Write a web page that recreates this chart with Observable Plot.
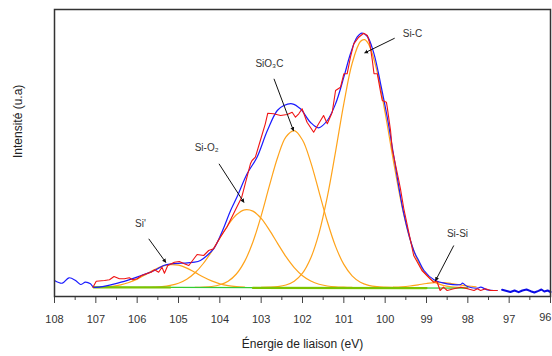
<!DOCTYPE html>
<html><head><meta charset="utf-8">
<script src="https://cdn.jsdelivr.net/npm/d3@7"></script>
<script src="https://cdn.jsdelivr.net/npm/@observablehq/plot@0.6"></script>
<style>
html,body{margin:0;padding:0;background:#fff;}
#chart{width:552px;height:356px;}
</style></head><body><div id="chart"></div>
<script>
// X axis ticks (binding energy, eV)
const xTicks = [108,107,106,105,104,103,102,101,100,99,98,97,96];
const xMinorTicks = [107.5,106.5,105.5,104.5,103.5,102.5,101.5,100.5,99.5,98.5,97.5,96.5];

// Envelope (blue)
const blueE = [108.00,107.81,107.65,107.49,107.37,107.25,107.13,107.05,106.39,105.90,
  105.58,105.36,105.18,104.78,104.61,104.47,104.31,104.15,104.06,103.90,
  103.74,103.58,103.34,103.10,102.85,102.61,102.45,102.25,102.05,101.81,
  101.61,101.40,101.20,101.00,100.84,100.68,100.56,100.43,100.27,100.11,
  99.95,99.79,99.55,99.31,99.19,99.06,98.82,98.50,98.17,98.13,
  98.01,97.77,97.69,97.53,97.29];
const blueH = [16,13.3,18.7,16,12,14.3,12.7,9.3,14.3,21,
  26,31,32.7,33.7,34.3,36,41,47.7,54.3,69.3,
  86,100,122.7,139.3,166,186,191,192.7,187.7,174.3,
  168.7,176,192.7,219.3,242.7,259.3,263.3,260,242.7,212.7,
  179.3,140,83,46,36,26,16.7,12.7,12,13.3,
  10,8.3,9.3,6.7,6];
// Blue tail (97 -> 96 eV)
const blueTailE = [97.17,97.06,96.97,96.87,96.77,96.68,96.58,96.48,96.39,96.29,96.22,96.15,96.07,96.00];
const blueTailH = [6.7,5.5,4.5,6,4.3,6,7,5.3,4,5.7,7,5,6,4.5];

// Measured spectrum (red)
const redE = [107.07,106.99,106.79,106.67,106.56,106.43,106.31,106.19,106.11,106.00,
  105.89,105.78,105.66,105.58,105.48,105.40,105.34,105.26,105.10,104.98,
  104.86,104.75,104.55,104.39,104.27,104.15,103.99,103.83,103.63,103.47,
  103.26,103.22,103.14,103.02,102.90,102.84,102.70,102.53,102.37,102.25,
  102.17,102.09,102.01,101.89,101.73,101.61,101.49,101.40,101.28,101.20,
  101.08,101.00,100.92,100.84,100.76,100.64,100.52,100.43,100.37,100.31,
  100.27,100.19,100.11,100.07,99.97,99.95,99.87,99.83,99.67,99.63,
  99.55,99.31,99.11,98.91,98.83,98.75,98.67,98.59,98.50,98.34,
  98.17,98.01,97.85,97.77,97.69,97.57,97.45,97.29];
const redH = [9.3,15.3,16,16.7,20,17.7,17.7,18.7,16.7,17.7,
  21,22.7,24.3,26.7,24.3,29.3,23.3,31,34.3,35,
  32.7,31,42,41,46,47.7,59.3,69.3,86,99.3,
  132.7,136,139.3,156,172.7,183.3,182.7,181,182,184.3,
  179.3,182.7,187.7,174.3,164.3,172.7,181,172.7,184.3,206,
  209.3,222.7,222.7,239.3,252.7,259.3,263.3,261,252.7,236,
  222.7,222.7,204.3,196,194.3,189.3,166,147.7,116,107.7,
  88,41,26,17.7,14.3,15.3,6,9.3,6,7.7,
  9.3,7.7,6,7.7,6,7.7,6,6];

// Fitted components (orange)
const siPrimeE = [107.0,106.8,106.6,106.4,106.2,106.0,105.8,105.6,105.4,105.2,105.0,104.8,104.6,104.4,104.2,104.0,103.8,103.6,103.4];
const siPrimeH = [9.2,9.5,10.2,11.6,14.0,17.4,21.8,26.4,30.1,31.9,31.3,28.4,24.1,19.5,15.6,12.7,10.8,9.8,9.3];
const siO2E = [106.0,105.8,105.6,105.4,105.2,105.0,104.8,104.6,104.4,104.2,104.0,103.8,103.6,103.4,103.2,103.0,102.8,102.6,102.4,102.2,102.0,101.8,101.6,101.4,101.2,101.0,100.8];
const siO2H = [9.0,9.1,9.4,9.9,11.1,13.3,17.3,23.7,33.0,44.9,58.4,71.5,81.7,86.7,85.4,78.1,66.4,52.9,39.8,28.9,20.8,15.5,12.2,10.5,9.6,9.3,9.1];
const siO3CE = [104.6,104.4,104.2,104.0,103.8,103.6,103.4,103.2,103.0,102.8,102.6,102.4,102.2,102.0,101.8,101.6,101.4,101.2,101.0,100.8,100.6,100.4,100.2,100.0,99.8];
const siO3CH = [9.1,9.3,10.0,11.7,15.3,22.5,35.1,54.5,80.7,110.8,139.3,159.6,165.9,156.5,134.1,104.7,75.0,50.1,32.1,20.7,14.3,11.2,9.8,9.3,9.1];
const siCE = [103.0,102.8,102.6,102.4,102.2,102.0,101.8,101.6,101.4,101.2,101.0,100.8,100.6,100.5,100.4,100.2,100.0,99.8,99.6,99.4,99.2,99.0,98.8,98.6,98.4,98.2,98.0];
const siCH = [9.1,9.3,9.9,11.5,15.3,23.3,38.5,63.4,99.6,144.9,192.8,233,255,256.9,252.4,226,183.5,135.4,91.5,57.5,34.7,21.3,14.3,11.1,9.7,9.2,9.0];
const siSiE = [99.8,99.6,99.4,99.2,99.0,98.8,98.6,98.4,98.2,98.0,97.8];
const siSiH = [9.3,9.7,10.5,11.7,13.0,13.9,13.9,13.0,11.7,10.5,9.7];

// Baselines (green)
const baseE = [107.05, 98.0];
const baseH = [9.3, 8.3];
const limeE = [107.05, 105.2, 103.2, 99.0];
const limeH = [9.1, 9.0, 8.6, 8.4];
const limeSeg = ["a", "a", "b", "b"];

// Annotations
const labelNames = ["Si'", "Si-O₂", "SiO₃C", "Si-C", "Si-Si"];
const labelE = [105.92, 104.32, 102.80, 99.34, 98.25];
const labelH = [73, 149, 233, 263, 63];
const arrowE1 = [105.72, 104.02, 102.69, 99.77, 98.34];
const arrowH1 = [57.7, 132.7, 217.7, 258.3, 51];
const arrowE2 = [105.31, 103.42, 102.22, 100.49, 98.78];
const arrowH2 = [34.3, 94.3, 166, 243.7, 16];

const xTitle = "Énergie de liaison (eV)";
const yTitle = "Intensité (u.a)";

const orange = "#ffa31a";
const comps = [[siPrimeE, siPrimeH], [siO2E, siO2H], [siO3CE, siO3CH], [siCE, siCH], [siSiE, siSiH]];
const lastTick = xTicks[xTicks.length - 1];

const chart = Plot.plot({
  width: 552, height: 356,
  marginLeft: 54, marginRight: 2, marginTop: 9, marginBottom: 60,
  x: {domain: [108, 96]},
  y: {domain: [0, 287], axis: null},
  style: {fontFamily: "'Liberation Sans', Arial, sans-serif", background: "#fff"},
  marks: [
    Plot.axisX({ticks: xMinorTicks, tickSize: 4, tickFormat: () => "", stroke: "#444", label: null}),
    Plot.axisX({ticks: xTicks, tickSize: 7, tickPadding: 12, fontSize: 11, fill: "#333", stroke: "#444", label: null,
      tickFormat: d => d === lastTick ? "" : String(d)}),
    Plot.text([lastTick], {x: d => d, frameAnchor: "bottom", dy: 24, dx: 1, textAnchor: "end", text: d => String(d), fontSize: 11, fill: "#333"}),
    ...comps.map(([e, h]) => Plot.line(e, {x: e, y: h, stroke: orange, strokeWidth: 1.2, curve: "catmull-rom"})),
    Plot.line(baseE, {x: baseE, y: baseH, stroke: "#33cc33", strokeWidth: 1.2}),
    Plot.line(limeE, {x: limeE, y: limeH, z: limeSeg, stroke: "#7cc400", strokeWidth: 2.2}),
    Plot.line(blueE, {x: blueE, y: blueH, stroke: "#1a1aff", strokeWidth: 1.2, curve: "catmull-rom"}),
    Plot.line(blueTailE, {x: blueTailE, y: blueTailH, stroke: "#0a0ae6", strokeWidth: 2}),
    Plot.line(redE, {x: redE, y: redH, stroke: "#f01414", strokeWidth: 1.1}),
    Plot.link(labelNames, {x1: arrowE1, y1: arrowH1, x2: arrowE2, y2: arrowH2, stroke: "#111", strokeWidth: 1, markerEnd: "arrow"}),
    Plot.text(labelNames, {x: labelE, y: labelH, text: d => d, fontSize: 10, fill: "#333"}),
    Plot.text([xTitle], {frameAnchor: "bottom", dy: 51, text: d => d, fontSize: 12, fill: "#222"}),
    Plot.text([yTitle], {frameAnchor: "left", dx: -36, dy: 5, rotate: -90, text: d => d, fontSize: 12, fill: "#222"}),
    Plot.frame({stroke: "#333", strokeWidth: 1.5})
  ]
});
chart.querySelectorAll("marker").forEach(m => {
  m.setAttribute("fill", "#111");
  m.setAttribute("stroke", "none");
  const p = m.querySelector("path");
  if (p) p.setAttribute("d", "M-5,-3L1.5,0L-5,3Z");
});
document.getElementById("chart").appendChild(chart);
</script>
</body></html>
